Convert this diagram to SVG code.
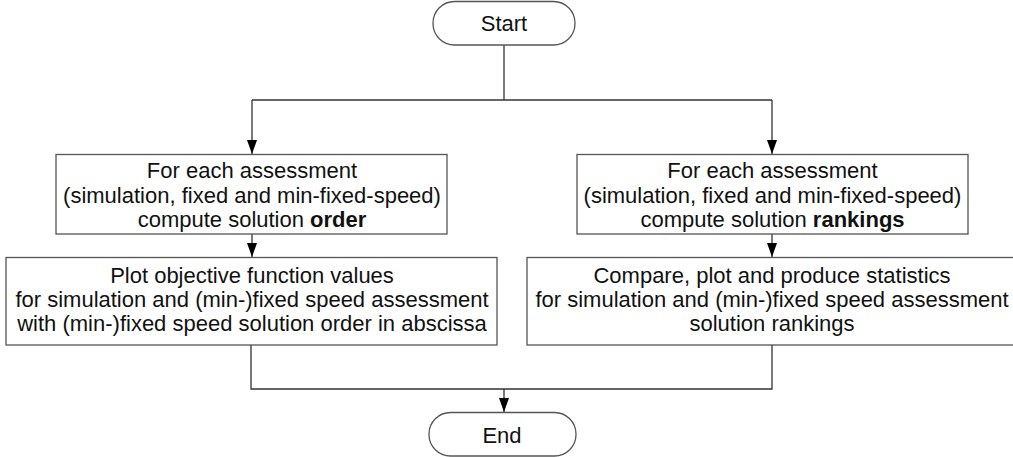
<svg xmlns="http://www.w3.org/2000/svg" width="1013" height="457" viewBox="0 0 1013 457">
<style>
.box{fill:#fff;stroke:#555;stroke-width:1.3}
.t{font-family:"Liberation Sans",Arial,sans-serif;font-size:22px;fill:#111;text-anchor:middle}
.b{font-weight:bold}
.c{fill:none;stroke:#333;stroke-width:1.3}
</style>
<defs>
<marker id="ah" markerWidth="10" markerHeight="14" refX="5" refY="14" orient="0" markerUnits="userSpaceOnUse" viewBox="0 0 10 14">
<path d="M0,0 L10,0 L5,14 Z" fill="#000"/>
</marker>
</defs>
<g id="connectors">
<path class="c" d="M504,45 V100"/>
<path class="c" d="M252,100 H772"/>
<path class="c" d="M252,100 V154" marker-end="url(#ah)"/>
<path class="c" d="M772,100 V154" marker-end="url(#ah)"/>
<path class="c" d="M252,234 V257" marker-end="url(#ah)"/>
<path class="c" d="M772,234 V257" marker-end="url(#ah)"/>
<path class="c" d="M251,345 V389 H772 V345"/>
<path class="c" d="M504,389 V412" marker-end="url(#ah)"/>
</g>
<g id="start">
<rect class="box" x="433" y="1.5" width="142" height="43.5" rx="21.5" ry="21.5"/>
<text class="t" x="504" y="31">Start</text>
</g>
<g id="order">
<rect class="box" x="56" y="154.5" width="391" height="79.5"/>
<text class="t" x="252" y="178">For each assessment</text>
<text class="t" x="252" y="202.5">(simulation, fixed and min-fixed-speed)</text>
<text class="t" x="252" y="226.5">compute solution <tspan class="b">order</tspan></text>
</g>
<g id="rankings">
<rect class="box" x="577" y="154.5" width="391" height="79.5"/>
<text class="t" x="772.5" y="178">For each assessment</text>
<text class="t" x="772.5" y="202.5">(simulation, fixed and min-fixed-speed)</text>
<text class="t" x="772.5" y="226.5">compute solution <tspan class="b">rankings</tspan></text>
</g>
<g id="plot">
<rect class="box" x="6" y="257.5" width="491" height="87.5"/>
<text class="t" x="252" y="283">Plot objective function values</text>
<text class="t" x="252" y="307">for simulation and (min-)fixed speed assessment</text>
<text class="t" x="252" y="331">with (min-)fixed speed solution order in abscissa</text>
</g>
<g id="compare">
<rect class="box" x="527" y="257.5" width="491" height="87.5"/>
<text class="t" x="772" y="283">Compare, plot and produce statistics</text>
<text class="t" x="772" y="307">for simulation and (min-)fixed speed assessment</text>
<text class="t" x="772" y="331">solution rankings</text>
</g>
<g id="end">
<rect class="box" x="429" y="412.5" width="147" height="43.5" rx="21.5" ry="21.5"/>
<text class="t" x="502" y="443">End</text>
</g>
</svg>
